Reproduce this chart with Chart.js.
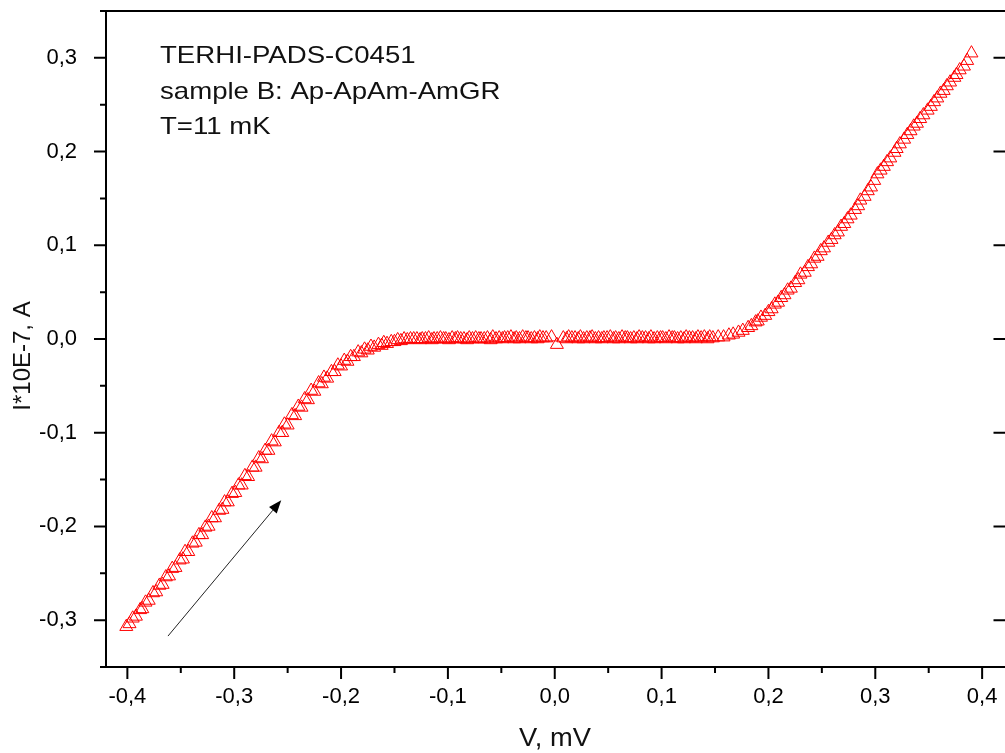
<!DOCTYPE html>
<html>
<head>
<meta charset="utf-8">
<title>I-V curve</title>
<script src="https://cdn.jsdelivr.net/npm/chart.js@4.4.1/dist/chart.umd.min.js"></script>
<style>
  html, body { margin: 0; padding: 0; background: #fff; overflow: hidden; }
  #wrap { position: relative; width: 1012px; height: 753px; }
</style>
</head>
<body>
<div id="wrap"><canvas id="iv-chart"></canvas></div>
<script>
// Measured points read off the plot: bias voltage (mV) and current (x1E-7 A)
// first trace
const voltage = [
  -0.401, -0.395, -0.388, -0.383, -0.376, -0.370, -0.364, -0.358, -0.351, -0.346,
  -0.339, -0.333, -0.327, -0.321, -0.314, -0.309, -0.302, -0.296, -0.290, -0.283,
  -0.277, -0.271, -0.265, -0.258, -0.253, -0.246, -0.240, -0.234, -0.228, -0.221,
  -0.216, -0.209, -0.203, -0.197, -0.191, -0.184, -0.178, -0.172, -0.165, -0.160,
  -0.153, -0.147, -0.141, -0.135,
  -0.129, -0.124, -0.118, -0.113, -0.107, -0.102, -0.096, -0.091, -0.085, -0.080,
  -0.074, -0.069, -0.063, -0.058, -0.052, -0.047, -0.041, -0.036, -0.030, -0.025,
  -0.019, -0.014, -0.008, -0.003,
  0.002,
  0.008, 0.013, 0.019, 0.024, 0.030, 0.035, 0.041, 0.046, 0.052, 0.057,
  0.063, 0.068, 0.074, 0.079, 0.085, 0.090, 0.096, 0.101, 0.107, 0.112,
  0.118, 0.123, 0.129, 0.134, 0.140, 0.145,
  0.153, 0.163, 0.172, 0.181, 0.188, 0.193, 0.200, 0.206, 0.212, 0.218,
  0.225, 0.230, 0.237, 0.243, 0.249, 0.256, 0.262, 0.268, 0.274, 0.281,
  0.286, 0.293, 0.299, 0.305, 0.311, 0.318, 0.323, 0.330, 0.336, 0.342,
  0.349, 0.355, 0.361, 0.367, 0.374, 0.379, 0.386, 0.390
];
const current = [
  -0.307, -0.298, -0.289, -0.281, -0.271, -0.263, -0.254, -0.245, -0.236, -0.227,
  -0.218, -0.209, -0.201, -0.191, -0.183, -0.174, -0.165, -0.156, -0.146, -0.137,
  -0.127, -0.119, -0.109, -0.100, -0.091, -0.081, -0.072, -0.064, -0.055, -0.047,
  -0.041, -0.035, -0.028, -0.023, -0.019, -0.014, -0.011, -0.008, -0.006, -0.004,
  -0.003, -0.001, 0.000, 0.000,
  0.000, 0.000, 0.001, 0.000, 0.001, 0.000, 0.001, 0.001, 0.000, 0.001,
  0.001, 0.000, 0.001, 0.002, 0.001, 0.001, 0.002, 0.001, 0.002, 0.001,
  0.001, 0.002, 0.001, 0.002,
  -0.006,
  0.001, 0.002, 0.001, 0.002, 0.001, 0.002, 0.001, 0.001, 0.002, 0.001,
  0.002, 0.001, 0.001, 0.002, 0.001, 0.002, 0.001, 0.001, 0.002, 0.001,
  0.001, 0.002, 0.001, 0.002, 0.002, 0.002,
  0.002, 0.004, 0.007, 0.012, 0.018, 0.023, 0.029, 0.037, 0.044, 0.052,
  0.060, 0.069, 0.077, 0.086, 0.094, 0.103, 0.111, 0.120, 0.128, 0.138,
  0.148, 0.158, 0.169, 0.180, 0.189, 0.199, 0.208, 0.218, 0.227, 0.235,
  0.244, 0.253, 0.262, 0.270, 0.279, 0.287, 0.297, 0.305
];

// second trace, lying just beside the first one
const voltage2 = [
  -0.398, -0.392, -0.386, -0.380, -0.373, -0.367, -0.361, -0.355, -0.348, -0.343,
  -0.336, -0.330, -0.324, -0.318, -0.311, -0.306, -0.299, -0.293, -0.287, -0.280,
  -0.274, -0.268, -0.262, -0.255, -0.250, -0.243, -0.237, -0.231, -0.225, -0.218,
  -0.213, -0.206, -0.200, -0.194, -0.188, -0.181, -0.175, -0.169, -0.162, -0.157,
  -0.150, -0.144, -0.138, -0.132,
  -0.126, -0.121, -0.115, -0.110, -0.104, -0.099, -0.093, -0.088, -0.082, -0.077,
  -0.071, -0.066, -0.060, -0.055, -0.049, -0.044, -0.038, -0.033, -0.027, -0.022,
  -0.016, -0.011,
  0.011, 0.016, 0.022, 0.027, 0.033, 0.038, 0.044, 0.049, 0.055, 0.060,
  0.066, 0.071, 0.077, 0.082, 0.088, 0.093, 0.099, 0.104, 0.110, 0.115,
  0.121, 0.126, 0.132, 0.137, 0.143, 0.148,
  0.158, 0.167, 0.176, 0.184, 0.190, 0.197, 0.203, 0.209, 0.215, 0.221,
  0.228, 0.234, 0.240, 0.246, 0.252, 0.259, 0.265, 0.271, 0.277, 0.284,
  0.290, 0.296, 0.302, 0.308, 0.314, 0.320, 0.327, 0.333, 0.339, 0.345,
  0.352, 0.358, 0.364, 0.370, 0.376, 0.383
];
const current2 = [
  -0.304, -0.296, -0.288, -0.279, -0.270, -0.262, -0.253, -0.244, -0.235, -0.227,
  -0.217, -0.209, -0.200, -0.191, -0.182, -0.174, -0.164, -0.156, -0.147, -0.137,
  -0.128, -0.119, -0.110, -0.100, -0.092, -0.082, -0.073, -0.065, -0.056, -0.048,
  -0.042, -0.035, -0.029, -0.024, -0.019, -0.015, -0.012, -0.009, -0.007, -0.005,
  -0.003, -0.002, -0.001, 0.000,
  -0.001, 0.000, -0.001, 0.000, 0.000, -0.001, 0.000, 0.000, -0.001, 0.000,
  0.000, 0.000, -0.001, 0.000, 0.000, 0.001, 0.000, 0.000, 0.001, 0.000,
  0.000, 0.001,
  0.000, 0.001, 0.000, 0.000, 0.001, 0.000, 0.000, 0.001, 0.000, 0.000,
  0.001, 0.000, 0.000, 0.001, 0.000, 0.000, 0.001, 0.000, 0.001, 0.000,
  0.000, 0.001, 0.000, 0.001, 0.000, 0.001,
  0.002, 0.005, 0.009, 0.014, 0.019, 0.025, 0.032, 0.039, 0.047, 0.054,
  0.063, 0.071, 0.080, 0.088, 0.097, 0.106, 0.114, 0.123, 0.132, 0.142,
  0.152, 0.162, 0.176, 0.184, 0.193, 0.203, 0.213, 0.222, 0.230, 0.239,
  0.248, 0.257, 0.265, 0.274, 0.282, 0.291
];

const xTickValues = [-0.4, -0.3, -0.2, -0.1, 0, 0.1, 0.2, 0.3, 0.4];
const yTickValues = [-0.3, -0.2, -0.1, 0, 0.1, 0.2, 0.3];

// Sweep direction arrow, in data units (tail, tip)
const arrowTail = [-0.362, -0.317];
const arrowTip = [-0.256, -0.172];

const noteLines = ['TERHI-PADS-C0451', 'sample B: Ap-ApAm-AmGR', 'T=11 mK'];
const xTitle = 'V, mV';
const yTitle = 'I*10E-7, A';

const FONT = '"Liberation Sans", Arial, sans-serif';

function commaLabel(v) {
  return (Math.round(v * 10) / 10).toFixed(1).replace('.', ',');
}

function stretchedText(ctx, text, x, y, sx) {
  ctx.save();
  ctx.translate(x, y);
  ctx.scale(sx, 1);
  ctx.fillText(text, 0, 0);
  ctx.restore();
}

// Draws the axis lines, the Origin-style ticks, titles, note and the arrow
const decorations = {
  id: 'decorations',
  afterDraw(chart) {
    const { ctx, chartArea: a, scales: { x, y } } = chart;
    ctx.save();
    ctx.strokeStyle = '#000';
    ctx.lineWidth = 2;
    // left, bottom and top axis lines (the right one sits just past the picture edge)
    ctx.beginPath();
    ctx.moveTo(a.right + 4, a.top);
    ctx.lineTo(a.left, a.top);
    ctx.lineTo(a.left, a.bottom);
    ctx.lineTo(a.right + 4, a.bottom);
    ctx.stroke();

    ctx.beginPath();
    for (let k = -8; k <= 8; k++) {
      const px = x.getPixelForValue(k * 0.05);
      const len = k % 2 === 0 ? 12 : 6;
      ctx.moveTo(px, a.bottom);
      ctx.lineTo(px, a.bottom + len);
    }
    for (let k = -7; k <= 7; k++) {
      const py = y.getPixelForValue(k * 0.05);
      const major = k % 2 === 0;
      ctx.moveTo(a.left, py);
      ctx.lineTo(a.left - (major ? 12 : 6), py);
      if (major) {
        ctx.moveTo(a.right + 2, py);
        ctx.lineTo(a.right - 10, py);
      }
    }
    ctx.stroke();

    // arrow
    const x0 = x.getPixelForValue(arrowTail[0]), y0 = y.getPixelForValue(arrowTail[1]);
    const x1 = x.getPixelForValue(arrowTip[0]), y1 = y.getPixelForValue(arrowTip[1]);
    const ang = Math.atan2(y1 - y0, x1 - x0);
    const head = 13, half = 5;
    const bx = x1 - head * Math.cos(ang), by = y1 - head * Math.sin(ang);
    ctx.strokeStyle = '#222';
    ctx.fillStyle = '#000';
    ctx.lineWidth = 1;
    ctx.beginPath();
    ctx.moveTo(x0, y0);
    ctx.lineTo(bx, by);
    ctx.stroke();
    ctx.beginPath();
    ctx.moveTo(x1, y1);
    ctx.lineTo(bx + half * Math.sin(ang), by - half * Math.cos(ang));
    ctx.lineTo(bx - half * Math.sin(ang), by + half * Math.cos(ang));
    ctx.closePath();
    ctx.fill();

    // text
    ctx.fillStyle = '#111';
    ctx.textBaseline = 'alphabetic';
    ctx.textAlign = 'left';
    ctx.font = '24px ' + FONT;
    const baselines = [63, 99, 134];
    noteLines.forEach((t, i) => stretchedText(ctx, t, 160, baselines[i], 1.15));

    ctx.textAlign = 'center';
    ctx.font = '26px ' + FONT;
    stretchedText(ctx, xTitle, 555, 746, 1.05);

    ctx.font = '24px ' + FONT;
    ctx.translate(30, 356);
    ctx.rotate(-Math.PI / 2);
    ctx.fillText(yTitle, 0, 0);
    ctx.restore();
  }
};

const pointStyle = {
  showLine: false,
  pointStyle: 'triangle',
  pointRadius: 7.5,
  pointBorderWidth: 1,
  borderColor: '#ff0000',
  backgroundColor: 'rgba(0,0,0,0)'
};

const ctx = document.getElementById('iv-chart').getContext('2d');
new Chart(ctx, {
  type: 'scatter',
  data: {
    datasets: [
      Object.assign({ label: 'trace 1', data: voltage.map((v, i) => ({ x: v, y: current[i] })) }, pointStyle),
      Object.assign({ label: 'trace 2', data: voltage2.map((v, i) => ({ x: v, y: current2[i] })) }, pointStyle)
    ]
  },
  options: {
    responsive: true,
    maintainAspectRatio: false,
    animation: false,
    layout: { padding: { top: 11, right: 6, left: 0, bottom: 0 } },
    plugins: { legend: { display: false }, tooltip: { enabled: false } },
    scales: {
      x: {
        type: 'linear',
        min: -0.42,
        max: 0.42,
        grid: { display: false },
        border: { display: false },
        afterBuildTicks(scale) { scale.ticks = xTickValues.map(v => ({ value: v })); },
        ticks: {
          autoSkip: false,
          maxRotation: 0,
          padding: 9,
          color: '#000',
          font: { family: FONT, size: 22 },
          callback: commaLabel
        },
        afterFit(scale) {
          scale.height = 86;
          scale.paddingLeft = 0;
          scale.paddingRight = 0;
        }
      },
      y: {
        type: 'linear',
        min: -0.35,
        max: 0.35,
        grid: { display: false },
        border: { display: false },
        afterBuildTicks(scale) { scale.ticks = yTickValues.map(v => ({ value: v })); },
        ticks: {
          autoSkip: false,
          padding: 21,
          color: '#000',
          font: { family: FONT, size: 22 },
          callback: commaLabel
        },
        afterFit(scale) {
          scale.width = 106;
          scale.paddingTop = 0;
          scale.paddingBottom = 0;
        }
      }
    }
  },
  plugins: [decorations]
});
</script>
</body>
</html>
